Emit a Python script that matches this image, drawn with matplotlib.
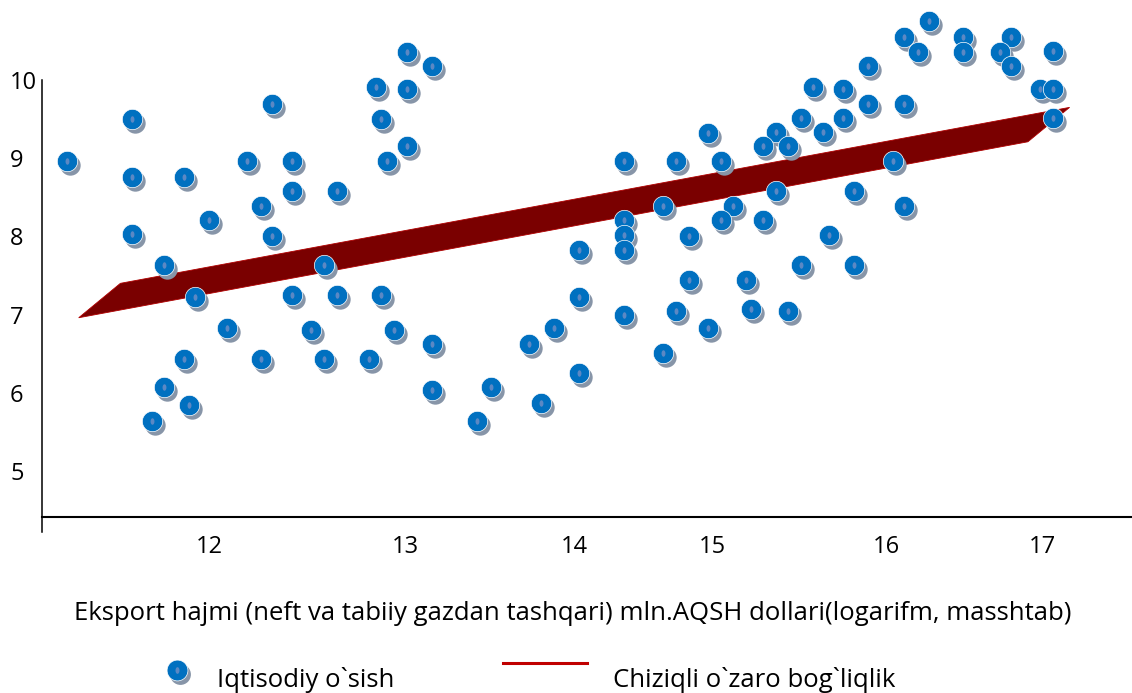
import numpy as np
import matplotlib
matplotlib.use("Agg")
import matplotlib.pyplot as plt
from matplotlib.transforms import offset_copy
from matplotlib.lines import Line2D

plt.rcParams['font.family'] = ['Open Sans', 'DejaVu Sans']

# scatter points (export log, growth)
px = [11.15, 11.54, 11.54, 11.54, 11.85, 12.00, 12.23, 12.31, 12.38, 12.38,
      12.50, 12.50, 12.77, 11.73, 12.69, 13.00, 13.03, 13.07, 13.19, 13.34,
      13.19, 13.19, 11.92, 12.50, 12.77, 13.03, 12.11, 11.85, 12.31, 12.61,
      12.69, 12.96, 11.73, 11.88, 11.66, 13.11, 13.34, 13.34, 13.69, 13.61,
      13.92, 14.07, 13.99, 14.22, 14.22, 14.22, 14.49, 14.80, 14.99, 15.07,
      14.72, 15.14, 15.07, 14.49, 14.49, 14.49, 14.88, 14.88, 15.22, 14.49,
      14.80, 14.72, 14.99, 15.25, 16.32, 16.17, 16.25, 16.52, 16.52, 16.81,
      16.74, 16.81, 17.06, 15.95, 15.62, 15.80, 15.95, 16.17, 16.98, 17.06,
      17.06, 15.55, 15.80, 15.68, 15.40, 15.32, 15.47, 16.10, 15.40, 15.87,
      16.17, 15.32, 15.72, 15.55, 15.87, 15.47]
py = [8.96, 9.50, 8.76, 8.03, 8.76, 8.21, 8.96, 8.39, 9.69, 8.00,
      8.96, 8.58, 8.58, 7.63, 7.63, 9.91, 9.50, 8.96, 10.36, 10.18,
      9.88, 9.15, 7.23, 7.25, 7.25, 7.25, 6.83, 6.43, 6.43, 6.80,
      6.43, 6.43, 6.07, 5.85, 5.64, 6.80, 6.62, 6.04, 6.07, 5.64,
      6.62, 6.83, 5.87, 7.23, 6.25, 7.82, 8.96, 8.96, 9.32, 8.96,
      8.39, 8.39, 8.21, 8.21, 8.02, 7.82, 8.00, 7.44, 7.44, 7.00,
      7.04, 6.51, 6.83, 7.07, 10.75, 10.55, 10.36, 10.55, 10.36, 10.55,
      10.36, 10.18, 10.37, 10.18, 9.91, 9.88, 9.69, 9.69, 9.88, 9.88,
      9.52, 9.52, 9.51, 9.33, 9.33, 9.15, 9.15, 8.96, 8.58, 8.58,
      8.39, 8.21, 8.02, 7.63, 7.63, 7.04]

# linear trend (front edge of the 3D ribbon)
trend_x = [11.22, 16.91]
trend_y = [6.96, 9.21]
depth_dx, depth_dy = 0.25, 0.44

xtick_pos = [12.0, 13.18, 14.19, 15.02, 16.06, 17.0]
xtick_lab = ['12', '13', '14', '15', '16', '17']
ytick_pos = [5, 6, 7, 8, 9, 10]

xlabel = "Eksport hajmi (neft va tabiiy gazdan tashqari) mln.AQSH dollari(logarifm, masshtab)"
leg1 = "Iqtisodiy o`sish"
leg2 = "Chiziqli o`zaro bog`liqlik"

blue = '#0070c0'
shade = '#8795a8'
hilite = '#5b88c4'
W, H = 1132, 693

fig = plt.figure(figsize=(W / 100, H / 100), dpi=100)
ax = fig.add_axes([42 / W, (H - 517) / H, 1 - 42 / W, 517 / H])
ax.set_xlim(11.0, 17.534)
ax.set_ylim(4.412, 11.023)

# ribbon
bx = [trend_x[0], trend_x[0] + depth_dx, trend_x[1] + depth_dx, trend_x[1]]
by = [trend_y[0], trend_y[0] + depth_dy, trend_y[1] + depth_dy, trend_y[1]]
ax.fill(bx, by, facecolor='#7a0000', edgecolor='#b00000', lw=0.6, zorder=2)

# points: shadow, body, highlight
sh = offset_copy(ax.transData, fig=fig, x=3, y=-4, units='dots')
t = np.linspace(0, 2 * np.pi, 40)
ell = np.column_stack([0.6 * np.cos(t), np.sin(t)])
ax.scatter(px, py, s=215, color=shade, lw=0, transform=sh, zorder=3)
ax.scatter(px, py, s=215, color=blue, edgecolors='white', lw=0.5, zorder=4)
ax.scatter(px, py, s=22, marker=ell, color=hilite, lw=0, zorder=5)

for s in ['top', 'right', 'left']:
    ax.spines[s].set_visible(False)
ax.spines['bottom'].set_linewidth(1.5)
ax.plot([11.0, 11.0], [4.22, 10.0], color='black', lw=1.1, clip_on=False, zorder=1)

ax.set_xticks(xtick_pos)
ax.set_xticklabels(xtick_lab, fontsize=17)
ax.set_yticks(ytick_pos)
ax.set_yticklabels([str(v) for v in ytick_pos], fontsize=17)
ax.tick_params(axis='x', length=0, pad=13)
ax.tick_params(axis='y', length=0, pad=23)
for lab in ax.get_yticklabels():
    lab.set_horizontalalignment('left')

fig.text(572.5 / W, (H - 613) / H, xlabel, fontsize=18.5, ha='center', va='center')

# legend
lx, ly = 177 / W, (H - 670) / H
fig.add_artist(Line2D([lx + 3 / W], [ly - 4 / H], marker='o', ms=15, color=shade, mew=0))
fig.add_artist(Line2D([lx], [ly], marker='o', ms=15, color=blue, mec='white', mew=0.5))
fig.add_artist(Line2D([lx], [ly], marker=ell, ms=4.8, color=hilite, mew=0))
fig.text(216.7 / W, (H - 687) / H, leg1, fontsize=18.5, ha='left', va='baseline')
fig.add_artist(Line2D([503 / W, 587 / W], [(H - 662.7) / H] * 2, color='#c00000', lw=2.2))
fig.text(612.7 / W, (H - 687) / H, leg2, fontsize=18.5, ha='left', va='baseline')

fig.savefig('out.png', dpi=100)
